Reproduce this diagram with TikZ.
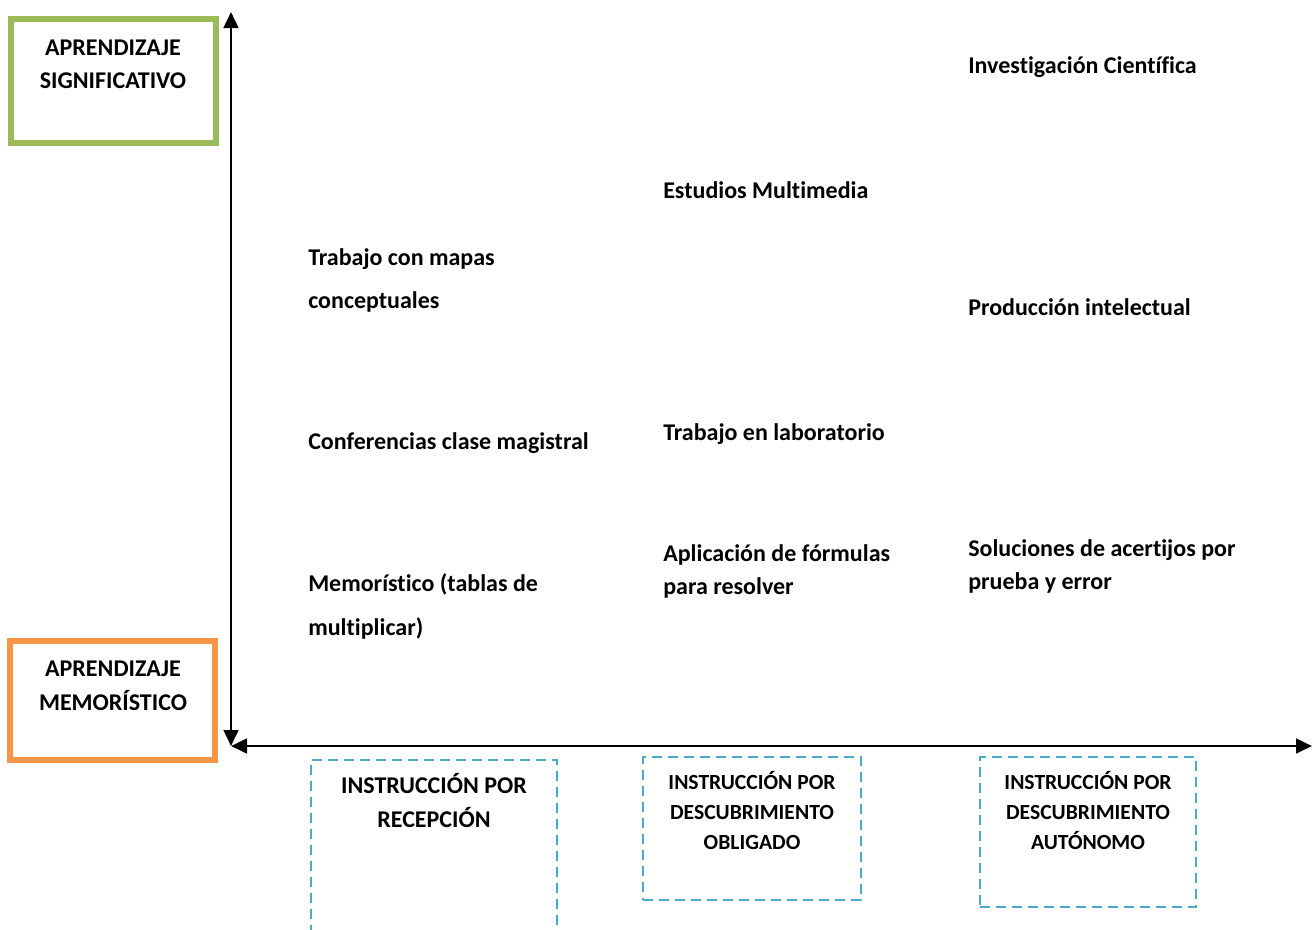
\documentclass[tikz,border=0pt]{standalone}
\usepackage{fontspec}
\setmainfont{Carlito}[BoldFont={Carlito Bold},Ligatures=NoCommon]
\usetikzlibrary{arrows.meta}
\definecolor{vgreen}{HTML}{9BBB59}
\definecolor{vorange}{HTML}{F79646}
\definecolor{vblue}{HTML}{4BACC6}
\begin{document}
\begin{tikzpicture}[x=0.75pt,y=-0.75pt,
  txt/.style={font=\fontsize{18}{21}\selectfont\bfseries, inner sep=0, anchor=base west},
  hdr/.style={font=\fontsize{18}{21}\selectfont\bfseries, inner sep=0, anchor=base},
  hdrs/.style={font=\fontsize{16.2}{19}\selectfont\bfseries, inner sep=0, anchor=base},
  axisline/.style={line width=2pt, {Triangle[length=12pt,width=11pt]}-{Triangle[length=12pt,width=11pt]}},
  solidbox/.style={line width=4.5pt, inner sep=0},
  dbox/.style={draw=vblue, line width=1.8pt, dash pattern=on 7.5pt off 4.5pt, inner sep=0}]
\useasboundingbox (0,0) rectangle (1312,929);
\clip (0,0) rectangle (1312,929);
% left boxes
\node[solidbox, draw=vgreen, minimum width=153.4pt, minimum height=93pt] (sig) at (113.25,80.5) {};
\node[solidbox, draw=vorange, minimum width=153.4pt, minimum height=89.25pt] (memb) at (112.75,700) {};
\node[hdr] (sig1) at (113,55) {APRENDIZAJE};
\node[hdr] (sig2) at (113,88) {SIGNIFICATIVO};
\node[hdr] (mem1h) at (113,676) {APRENDIZAJE};
\node[hdr] (mem2h) at (113,710) {MEMORÍSTICO};
% axes
\coordinate (O) at (231,746);
\coordinate (T) at (231,12);
\coordinate (R) at (1312,746);
\draw[axisline] (O) -- (T);
\draw[axisline] (O) -- (R);
% dashed boxes
\node[dbox, minimum width=184.5pt, minimum height=131.25pt] (b1) at (434,847.5) {};
\node[dbox, minimum width=163.5pt, minimum height=107.25pt] (b2) at (752,828.5) {};
\node[dbox, minimum width=162pt, minimum height=112.5pt] (b3) at (1088,832) {};
\node[hdr] (b1a) at (434,793) {INSTRUCCIÓN POR};
\node[hdr] (b1b) at (434,827) {RECEPCIÓN};
\node[hdrs] (b2a) at (752,789) {INSTRUCCIÓN POR};
\node[hdrs] (b2b) at (752,819) {DESCUBRIMIENTO};
\node[hdrs] (b2c) at (752,849) {OBLIGADO};
\node[hdrs] (b3a) at (1088,789) {INSTRUCCIÓN POR};
\node[hdrs] (b3b) at (1088,819) {DESCUBRIMIENTO};
\node[hdrs] (b3c) at (1088,849) {AUTÓNOMO};
% texts
\node[txt] (inv) at (968,73) {Investigación Científica};
\node[txt] (mul) at (663,198) {Estudios Multimedia};
\node[txt] (map1) at (308,265) {Trabajo con mapas};
\node[txt] (map2) at (308,308) {conceptuales};
\node[txt] (prod) at (968,315) {Producción intelectual};
\node[txt] (conf) at (308,449) {Conferencias clase magistral};
\node[txt] (lab) at (663,440) {Trabajo en laboratorio};
\node[txt] (apl1) at (663,561) {Aplicación de fórmulas};
\node[txt] (apl2) at (663,594) {para resolver};
\node[txt] (sol1) at (968,556) {Soluciones de acertijos por};
\node[txt] (sol2) at (968,589) {prueba y error};
\node[txt] (memo1) at (308,591) {Memorístico (tablas de};
\node[txt] (memo2) at (308,635) {multiplicar)};
\end{tikzpicture}
\end{document}
